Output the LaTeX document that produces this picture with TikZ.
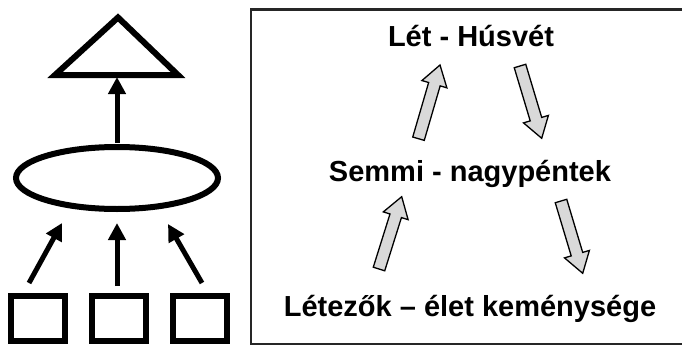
\documentclass[tikz,border=0pt]{standalone}
\usepackage{fontspec}
\setmainfont{Liberation Sans}
\usetikzlibrary{calc,shapes.geometric,arrows.meta}

\tikzset{
  heavy/.style={line width=6pt, line join=miter},
  uparrow/.style={line width=5pt, -{Triangle[length=17pt,width=17pt]}},
  stage/.style={font=\fontsize{29}{34}\selectfont\bfseries, anchor=base, inner sep=0pt},
  blockarrow/.style={draw=black, line width=1.3pt, fill=black!15, line join=miter},
  frame/.style={draw=black!85, line width=2.2pt}
}

% wide hollow arrow from tail (#1) to tip (#2)
\newcommand\blockarrow[2]{%
  \coordinate (ba-c) at ($(#2)!20pt!(#1)$);
  \draw[blockarrow] ($(#1)!6pt!90:(#2)$) -- ($(ba-c)!6pt!90:(#2)$)
    -- ($(ba-c)!13pt!90:(#2)$) -- (#2) -- ($(ba-c)!13pt!-90:(#2)$)
    -- ($(ba-c)!6pt!-90:(#2)$) -- ($(#1)!6pt!-90:(#2)$) -- cycle;
}

\begin{document}
\begin{tikzpicture}[x=1pt,y=-1pt]
  \useasboundingbox (0,0) rectangle (682,345);

  % left: boxes feeding an ellipse, which feeds a triangle
  \draw[heavy] (55,75) -- (118,17.5) -- (178,75) -- cycle;
  \coordinate (tri) at (117,77);
  \node[heavy, draw, ellipse, minimum width=202pt, minimum height=62pt, inner sep=0pt] (ell) at (117,178) {};
  \node[heavy, draw, minimum width=54pt, minimum height=45pt, inner sep=0pt] (b1) at (38,318) {};
  \node[heavy, draw, minimum width=54pt, minimum height=45pt, inner sep=0pt] (b2) at (119,318) {};
  \node[heavy, draw, minimum width=54pt, minimum height=45pt, inner sep=0pt] (b3) at (200,318) {};

  \coordinate (s1) at (29,283);  \coordinate (e1) at (62,223);
  \coordinate (s2) at (117,286); \coordinate (e2) at (117,223);
  \coordinate (s3) at (202,283); \coordinate (e3) at (168,224);
  \coordinate (s0) at (117,143);
  \draw[uparrow] (s1) -- (e1);
  \draw[uparrow] (s2) -- (e2);
  \draw[uparrow] (s3) -- (e3);
  \draw[uparrow] (s0) -- (tri);

  % right: frame with the three stages
  \draw[frame] (251,9.5) rectangle (684,344);
  \node[stage] (let)  at (471,46.5)  {Lét - Húsvét};
  \node[stage] (semmi) at (470,181.5) {Semmi - nagypéntek};
  \node[stage] (letezok) at (470,316.5) {Létezők – élet keménysége};

  \coordinate (a1t) at (418.5,138.7); \coordinate (a1h) at (440,65);
  \coordinate (a2t) at (520,66);      \coordinate (a2h) at (541.7,138.3);
  \coordinate (a3t) at (379,269);     \coordinate (a3h) at (401.7,196.7);
  \coordinate (a4t) at (561,201);     \coordinate (a4h) at (582.7,273.3);
  \blockarrow{a1t}{a1h}
  \blockarrow{a2t}{a2h}
  \blockarrow{a3t}{a3h}
  \blockarrow{a4t}{a4h}
\end{tikzpicture}
\end{document}
